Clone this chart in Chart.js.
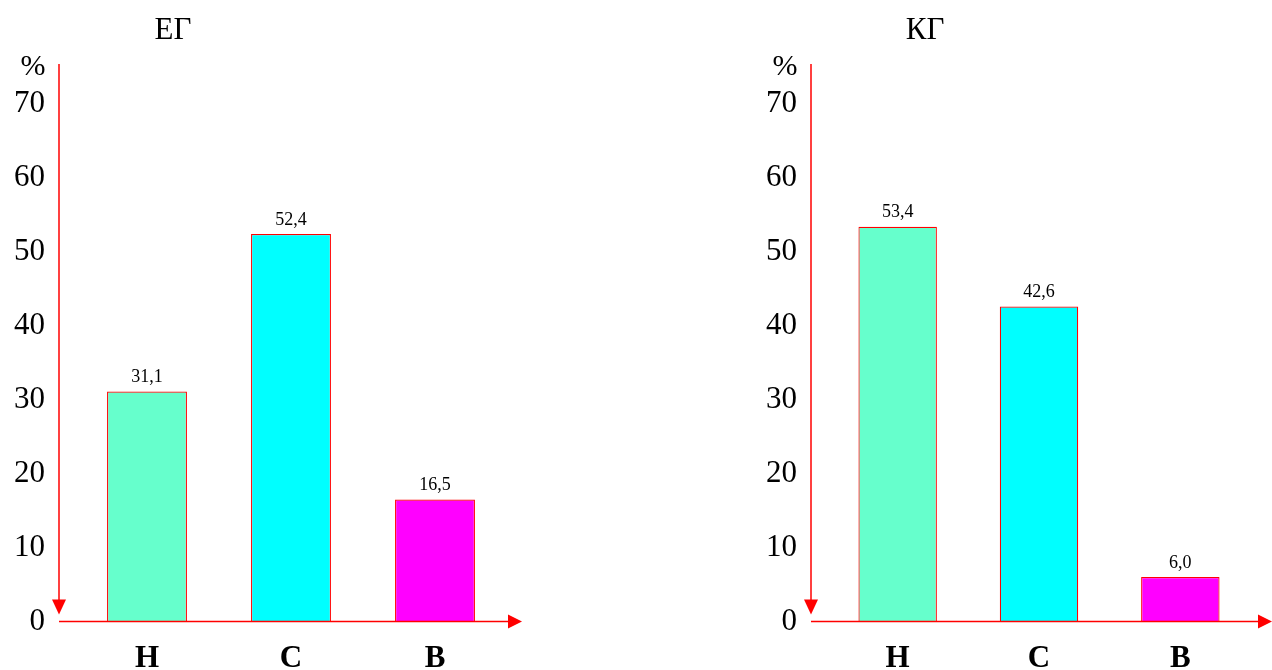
<!DOCTYPE html>
<html>
<head>
<meta charset="utf-8">
<script src="https://cdn.jsdelivr.net/npm/chart.js@4/dist/chart.umd.min.js"></script>
<style>
  html, body { margin: 0; padding: 0; background: #fff; }
  #wrap { position: relative; width: 1272px; height: 670px; }
  .box { position: absolute; top: 0; height: 670px; }
</style>
</head>
<body>
<div id="wrap">
  <div class="box" style="left:0;width:560px"><canvas id="egChart" width="560" height="670"></canvas></div>
  <div class="box" style="left:752px;width:520px"><canvas id="kgChart" width="520" height="670"></canvas></div>
</div>
<script>
// Data
const categories = ["Н", "С", "В"];
const egValues = [31.1, 52.4, 16.5];
const kgValues = [53.4, 42.6, 6.0];
const barColors = ["#66FFCC", "#00FFFF", "#FF00FF"];
const yTicks = [0, 10, 20, 30, 40, 50, 60, 70];

const serif = "'Liberation Serif', 'Times New Roman', serif";
const red = "#FF0000";

// axes with arrows, title, % sign and value labels
const decorPlugin = {
    id: "decor",
    afterDatasetsDraw(chart, args, opts) {
        const c = chart.ctx;
        const area = chart.chartArea;
        const ax = area.left - 16;
        const ay = area.bottom;
        const tip = area.right + opts.tipOffset;

        c.save();
        c.strokeStyle = red;
        c.fillStyle = red;
        c.lineWidth = 1.5;

        // y axis (arrow points down)
        c.beginPath();
        c.moveTo(ax, 64);
        c.lineTo(ax, ay - 20);
        c.stroke();
        c.beginPath();
        c.moveTo(ax - 7, ay - 22);
        c.lineTo(ax + 7, ay - 22);
        c.lineTo(ax, ay - 7);
        c.closePath();
        c.fill();

        // x axis (arrow points right)
        c.beginPath();
        c.moveTo(ax, ay);
        c.lineTo(tip - 12, ay);
        c.stroke();
        c.beginPath();
        c.moveTo(tip - 14, ay - 7);
        c.lineTo(tip - 14, ay + 7);
        c.lineTo(tip, ay);
        c.closePath();
        c.fill();

        // title and unit
        c.fillStyle = "#000";
        c.textAlign = "center";
        c.textBaseline = "middle";
        c.font = "31px " + serif;
        c.fillText(opts.title, area.left + 98, 31);
        c.font = "30px " + serif;
        c.fillText("%", 33, 67);

        // value labels
        c.font = "18px " + serif;
        c.textBaseline = "bottom";
        const meta = chart.getDatasetMeta(0);
        meta.data.forEach((bar, i) => {
            const v = chart.data.datasets[0].data[i];
            c.fillText(v.toFixed(1).replace(".", ","), bar.x, bar.y - 5);
        });
        c.restore();
    },
};

function makeChart(id, title, values, rightPad, tipOffset) {
    return new Chart(document.getElementById(id), {
        type: "bar",
        data: {
            labels: categories,
            datasets: [{
                data: values,
                backgroundColor: barColors,
                borderColor: red,
                borderWidth: 1.2,
                barPercentage: 0.555,
                categoryPercentage: 1,
            }],
        },
        plugins: [decorPlugin],
        options: {
            responsive: false,
            animation: false,
            layout: { padding: { top: 104, right: rightPad, left: 0, bottom: 0 } },
            plugins: {
                legend: { display: false },
                tooltip: { enabled: false },
                decor: { title: title, tipOffset: tipOffset },
            },
            scales: {
                x: {
                    grid: { display: false, drawTicks: false },
                    border: { display: false },
                    ticks: {
                        color: "#000",
                        padding: 19,
                        font: { family: serif, size: 31, weight: "bold" },
                    },
                    afterFit: (s) => { s.height = 48; },
                },
                y: {
                    min: 0,
                    max: 70,
                    grid: { display: false, drawTicks: false },
                    border: { display: false },
                    afterBuildTicks: (s) => { s.ticks = yTicks.map(v => ({ value: v })); },
                    ticks: {
                        color: "#000",
                        padding: 30,
                        font: { family: serif, size: 31 },
                    },
                    afterFit: (s) => { s.width = 75; },
                },
            },
        },
    });
}

makeChart("egChart", "ЕГ", egValues, 53, 15);
makeChart("kgChart", "КГ", kgValues, 21, 21);
</script>
</body>
</html>
